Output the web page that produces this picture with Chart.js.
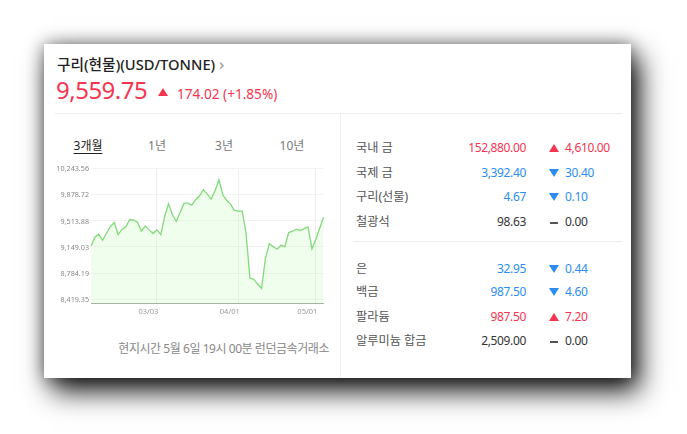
<!DOCTYPE html>
<html lang="ko">
<head>
<meta charset="utf-8">
<script src="https://cdn.jsdelivr.net/npm/chart.js@4"></script>
<style>
  html, body { margin: 0; padding: 0; background: #fff; overflow: hidden; }
  body { width: 687px; height: 434px; position: relative; font-family: "Noto Sans", "Noto Sans CJK KR", sans-serif; }
  .card { position: absolute; left: 44px; top: 44px; width: 587px; height: 334px; background: #fff; box-shadow: 8px 13px 26px rgba(0,0,0,.92), 0 0 16px rgba(0,0,0,.45); }
  .t { position: absolute; white-space: nowrap; line-height: 1; transform: translateY(-50%); }
  .r { transform: translate(-100%, -50%); }
  .num { letter-spacing: -.35px; }
  .rule { position: absolute; background: #eeeeee; }
  .up { color: #f5354f; }
  .down { color: #2d8cf0; }
  .flat { color: #333; }
  .tri { position: absolute; width: 0; height: 0; border-left: 5px solid transparent; border-right: 5px solid transparent; }
  .tri.up { border-bottom: 8px solid #f5354f; }
  .tri.down { border-top: 8px solid #2d8cf0; }
  .dash { position: absolute; width: 8px; height: 2px; background: #555; }
  #chart-wrap { position: absolute; left: 50px; top: 160px; width: 280px; height: 160px; }
</style>
</head>
<body>
<div class="card"></div>
<div class="t" style="left:57px;top:64px;font-size:14.7px;font-weight:500;color:#222">구리(현물)(USD/TONNE)</div>
<div class="t" style="left:219px;top:63px;font-size:17px;color:#999">›</div>
<div class="t up" style="left:56px;top:90px;font-size:24px;letter-spacing:-.5px">9,559.75</div>
<div class="tri up" style="left:158px;top:88px"></div>
<div class="t up" style="left:177px;top:94px;font-size:13.6px">174.02 (+1.85%)</div>
<div class="rule" style="left:55px;top:113px;width:567px;height:1px"></div>
<div class="rule" style="left:340px;top:114px;width:1px;height:264px"></div>
<div class="rule" style="left:353px;top:241px;width:269px;height:1px"></div>
<div id="tabs"></div>
<div id="chart-wrap"><canvas id="chart-copper" width="280" height="160"></canvas></div>
<div class="t r" style="left:329px;top:349px;font-size:12px;letter-spacing:-.45px;color:#888">현지시간 5월 6일 19시 00분 런던금속거래소</div>
<div id="table"></div>

<script>
const dates = [
  '02/06','02/07','02/10','02/11','02/12','02/13','02/14','02/17','02/18','02/19',
  '02/20','02/21','02/24','02/25','02/26','02/27','02/28','03/03','03/04','03/05',
  '03/06','03/07','03/10','03/11','03/12','03/13','03/14','03/17','03/18','03/19',
  '03/20','03/21','03/24','03/25','03/26','03/27','03/28','03/31','04/01','04/02',
  '04/03','04/04','04/07','04/08','04/09','04/10','04/11','04/14','04/15','04/16',
  '04/17','04/22','04/23','04/24','04/25','04/28','04/29','04/30','05/01','05/02',
  '05/06',
];
const prices = [
  9162, 9283, 9324, 9241, 9338, 9431, 9487, 9320, 9394, 9427,
  9529, 9519, 9492, 9366, 9440, 9385, 9334, 9385, 9320, 9570,
  9747, 9594, 9505, 9631, 9756, 9756, 9728, 9803, 9858, 9942,
  9882, 9812, 9928, 10081, 9872, 9793, 9742, 9654, 9645, 9645,
  9338, 8716, 8698, 8633, 8572, 8990, 9190, 9153, 9116, 9171,
  9153, 9348, 9366, 9394, 9376, 9403, 9427, 9120, 9255, 9408,
  9559.75,
];
const xTickLabels = ['03/03', '04/01', '05/01'];
const yTickValues = [8419.35, 8784.19, 9149.03, 9513.88, 9878.72, 10243.56];

const tabNames = ['3개월', '1년', '3년', '10년'];
const tabCenters = [88, 157, 224, 292];

const metalNames = ['국내 금', '국제 금', '구리(선물)', '철광석', '은', '백금', '팔라듐', '알루미늄 합금'];
const metalPrices = ['152,880.00', '3,392.40', '4.67', '98.63', '32.95', '987.50', '987.50', '2,509.00'];
const metalDeltas = ['4,610.00', '30.40', '0.10', '0.00', '0.44', '4.60', '7.20', '0.00'];
const metalDirs = ['up', 'down', 'down', 'flat', 'down', 'down', 'up', 'flat'];
const rowTops = [148, 172.5, 196.5, 221.5, 268.5, 292, 316.5, 341];

function addText(parent, text, cls, style) {
  const el = document.createElement('div');
  el.className = cls;
  el.textContent = text;
  el.style.cssText = style;
  parent.appendChild(el);
}

// tabs
const tabs = document.getElementById('tabs');
tabNames.forEach((name, i) => {
  const active = i === 0;
  addText(tabs, name, 't', `left:${tabCenters[i]}px;top:146px;font-size:12px;color:${active ? '#222' : '#777'};` +
    `transform:translate(-50%,-50%);${active ? 'text-decoration:underline;text-underline-offset:3px' : ''}`);
});

// metals table
const table = document.getElementById('table');
metalNames.forEach((name, i) => {
  const dir = metalDirs[i];
  const top = rowTops[i];
  addText(table, name, 't', `left:356px;top:${top}px;font-size:12.2px;color:#555`);
  addText(table, metalPrices[i], `t r num ${dir}`, `left:526px;top:${top}px;font-size:12px`);
  addText(table, metalDeltas[i], `t num ${dir}`, `left:565px;top:${top}px;font-size:12px`);
  const mark = document.createElement('div');
  if (dir === 'flat') {
    mark.className = 'dash';
    mark.style.cssText = `left:550px;top:${top}px`;
  } else {
    mark.className = `tri ${dir}`;
    mark.style.cssText = `left:548.5px;top:${top - 4}px`;
  }
  table.appendChild(mark);
});

// chart
new Chart(document.getElementById('chart-copper').getContext('2d'), {
  type: 'line',
  data: {
    labels: dates,
    datasets: [{
      data: prices,
      borderColor: '#80da78',
      backgroundColor: 'rgba(125,245,110,.12)',
      borderWidth: 1.3,
      fill: 'start',
      tension: 0,
      pointRadius: 0,
    }],
  },
  options: {
    responsive: false,
    animation: false,
    layout: { padding: { top: 8, right: 6, left: 0, bottom: 0 } },
    plugins: { legend: { display: false }, tooltip: { enabled: false } },
    scales: {
      x: {
        afterBuildTicks: axis => {
          axis.ticks = axis.ticks.filter(t => xTickLabels.includes(dates[t.value]));
        },
        afterFit: axis => { axis.height = 17; },
        ticks: {
          autoSkip: false, maxRotation: 0, padding: 4, labelOffset: -8.5,
          color: '#999', font: { family: '"Noto Sans"', size: 7.5 },
          callback: value => dates[value],
        },
        grid: { color: '#efefef', drawTicks: false },
        border: { color: '#a3b39f', width: 1 },
      },
      y: {
        min: 8370, max: 10243.56,
        afterBuildTicks: axis => { axis.ticks = yTickValues.map(value => ({ value })); },
        afterFit: axis => { axis.width = 41; },
        ticks: {
          padding: 2, labelOffset: 1,
          color: '#888', font: { family: '"Noto Sans"', size: 7.2 },
          callback: value => value.toLocaleString('en-US', { minimumFractionDigits: 2, maximumFractionDigits: 2 }),
        },
        grid: { color: '#f3f3f3', drawTicks: false },
        border: { display: false },
      },
    },
  },
});
</script>
</body>
</html>
